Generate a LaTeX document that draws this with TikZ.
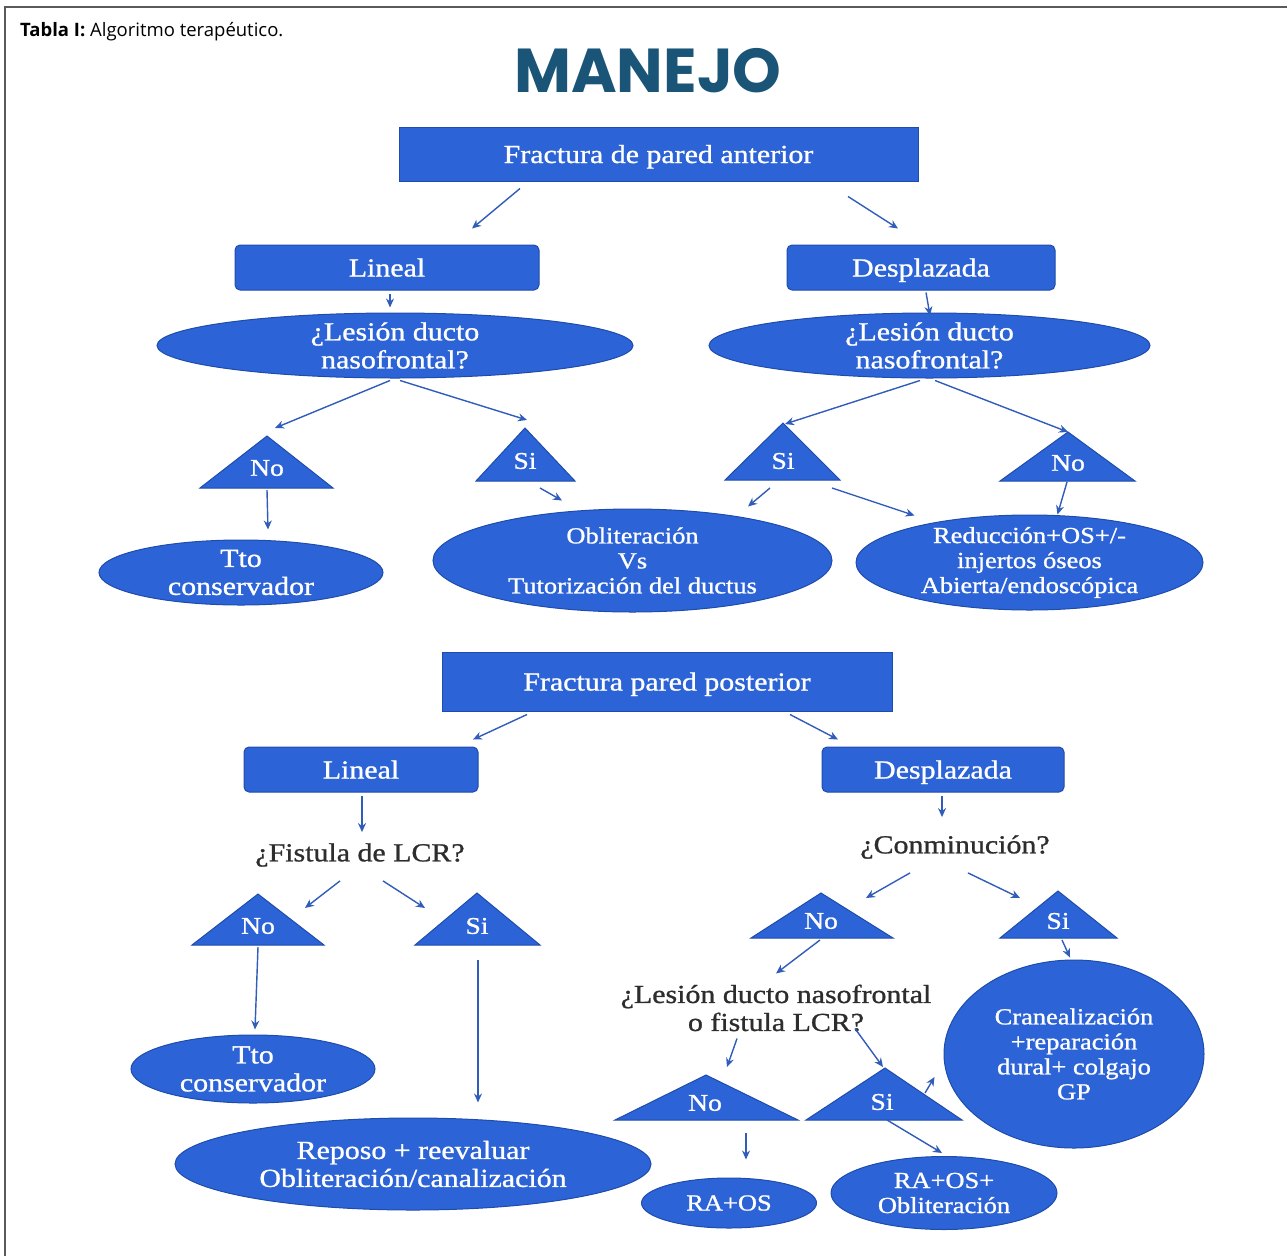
\documentclass[tikz,border=0pt]{standalone}
\usepackage{fontspec}
\setmainfont{Liberation Serif}[FakeStretch=1.15,FakeBold=1]
\newfontfamily\headfont{Open Sans}
\newfontfamily\titlefont{Poppins}
\usetikzlibrary{arrows.meta,calc,shapes.geometric}
\definecolor{boxblue}{RGB}{44,99,214}
\definecolor{edgeblue}{RGB}{30,76,172}
\definecolor{arrowblue}{RGB}{48,92,186}
\definecolor{titleblue}{RGB}{26,85,120}
\definecolor{framegray}{RGB}{90,90,90}
\definecolor{asktext}{RGB}{45,45,45}
\begin{document}
\begin{tikzpicture}[x=1pt,y=-1pt]
\tikzstyle{box}=[rectangle,fill=boxblue,draw=edgeblue,line width=1pt,text=white,text height=18pt,text depth=0pt,font=\fontsize{26}{28}\selectfont]
\tikzstyle{rbox}=[box,rounded corners=5pt]
\tikzstyle{oval}=[ellipse,fill=boxblue,draw=edgeblue,line width=1pt,text=white,inner sep=-6pt,align=center]
\tikzstyle{ovalbig}=[oval,font=\fontsize{26}{28}\selectfont]
\tikzstyle{ovalsmall}=[oval,font=\fontsize{23}{25}\selectfont]
\tikzstyle{tri}=[fill=boxblue,draw=edgeblue,line width=1pt]
\tikzstyle{trilabel}=[text=white,inner sep=0pt,font=\fontsize{24}{26}\selectfont]
\tikzstyle{question}=[text=asktext,inner sep=0pt,align=center,font=\fontsize{26}{28}\selectfont]
\tikzstyle{arr}=[draw=arrowblue,line width=1.4pt,-{Stealth[length=9pt,width=8pt]}]
\useasboundingbox (0,0) rectangle (1287,1256);
\draw[framegray,line width=1.6pt] (5,1256) -- (5,7) -- (1287,7);
\node[anchor=base west,inner sep=0pt,font=\headfont\fontsize{18.5}{21}\selectfont] (caption) at (20,36) {\textbf{Tabla I:} Algoritmo terapéutico.};
\node[anchor=base,inner sep=0pt,text=titleblue,font=\titlefont\bfseries\fontsize{62}{64}\selectfont] (manejo) at (648,92) {MANEJO};

\node[box,minimum width=519pt,minimum height=54pt] (fpa) at (658.5,154) {Fractura de pared anterior};
\node[rbox,minimum width=304pt,minimum height=45pt] (linA) at (387,267.5) {Lineal};
\node[rbox,minimum width=268pt,minimum height=45pt] (desA) at (921,267.5) {Desplazada};
\node[ovalbig,minimum width=476pt,minimum height=65pt] (lesA) at (395,345.5) {¿Lesión ducto\\nasofrontal?};
\node[ovalbig,minimum width=441pt,minimum height=65pt] (lesB) at (929.5,345.5) {¿Lesión ducto\\nasofrontal?};
\coordinate (noAtip) at (267,436);
\coordinate (siAtip) at (525,428);
\coordinate (siBtip) at (783,423);
\coordinate (noBtip) at (1068,432);
\filldraw[tri] (noAtip) -- ++(-67,52) -- ++(133,0) -- cycle;
\filldraw[tri] (siAtip) -- ++(-49,53) -- ++(99,0) -- cycle;
\filldraw[tri] (siBtip) -- ++(-58,57) -- ++(115,0) -- cycle;
\filldraw[tri] (noBtip) -- ++(-68,49) -- ++(135,0) -- cycle;
\node[trilabel] (noA) at (267,468) {No};
\node[trilabel] (siA) at (525,461) {Si};
\node[trilabel] (siB) at (783,461) {Si};
\node[trilabel] (noB) at (1068,463) {No};
\node[ovalbig,minimum width=284pt,minimum height=65pt] (ttoA) at (241,572.5) {Tto\\conservador};
\node[ovalsmall,minimum width=399pt,minimum height=103pt] (oblA) at (632.5,560.5) {Obliteración\\Vs\\Tutorización del ductus};
\node[ovalsmall,minimum width=347pt,minimum height=95pt] (redA) at (1029.5,562.5) {Reducción+OS+/-\\injertos óseos\\Abierta/endoscópica};
\draw[arr] ($(fpa.south)+(-138.5,7)$) -- ($(linA.north)+(85,-16)$);
\draw[arr] ($(fpa.south)+(189.5,15)$) -- ($(desA.north)+(-23,-16)$);
\draw[arr] ($(linA.south)+(3,3)$) -- ($(lesA.north)+(-5,-5)$);
\draw[arr] ($(desA.south)+(5,2)$) -- ($(lesB.north)+(0.5,3)$);
\draw[arr] ($(lesA.south)+(-5,2)$) -- ($(noAtip)+(8,-8)$);
\draw[arr] ($(lesA.south)+(5,2)$) -- ($(siAtip)+(2,-8)$);
\draw[arr] ($(lesB.south)+(-9.5,2)$) -- ($(siBtip)+(2,1)$);
\draw[arr] ($(lesB.south)+(5.5,2)$) -- (noBtip);
\draw[arr] ($(noAtip)+(0,54)$) -- ($(ttoA.north)+(27,-10)$);
\draw[arr] ($(siAtip)+(15,60)$) -- ($(oblA.north)+(-70.5,-8)$);
\draw[arr] ($(siBtip)+(-13,65)$) -- ($(oblA.north)+(115.5,-2)$);
\draw[arr] ($(siBtip)+(49,65)$) -- ($(redA.north)+(-115,1)$);
\draw[arr] ($(noBtip)+(-1,50)$) -- ($(redA.north)+(28,0)$);

\node[box,minimum width=450pt,minimum height=59pt] (fpp) at (667,681.5) {Fractura pared posterior};
\node[rbox,minimum width=234pt,minimum height=45pt] (linB) at (361,769.5) {Lineal};
\node[rbox,minimum width=242pt,minimum height=45pt] (desB) at (943,769.5) {Desplazada};
\node[question] (fis) at (360,855) {¿Fistula de LCR?};
\node[question] (con) at (955,847) {¿Conminución?};
\coordinate (noCtip) at (258,894);
\coordinate (siCtip) at (477,893);
\coordinate (noDtip) at (821,893);
\coordinate (siDtip) at (1058,891);
\coordinate (noEtip) at (706,1075);
\coordinate (siEtip) at (885,1068);
\filldraw[tri] (noCtip) -- ++(-66,51) -- ++(132,0) -- cycle;
\filldraw[tri] (siCtip) -- ++(-62,52) -- ++(125,0) -- cycle;
\filldraw[tri] (noDtip) -- ++(-70,45) -- ++(142,0) -- cycle;
\filldraw[tri] (siDtip) -- ++(-58,47) -- ++(117,0) -- cycle;
\filldraw[tri] (noEtip) -- ++(-91,45) -- ++(183,0) -- cycle;
\filldraw[tri] (siEtip) -- ++(-79,52) -- ++(156,0) -- cycle;
\node[trilabel] (noC) at (258,926) {No};
\node[trilabel] (siC) at (477,926) {Si};
\node[trilabel] (noD) at (821,921) {No};
\node[trilabel] (siD) at (1058,921) {Si};
\node[trilabel] (noE) at (705,1103) {No};
\node[trilabel] (siE) at (882,1102) {Si};
\node[question] (les2) at (776,1008) {¿Lesión ducto nasofrontal\\o fistula LCR?};
\node[ovalbig,minimum width=244pt,minimum height=68pt] (ttoB) at (253,1069) {Tto\\conservador};
\node[ovalbig,minimum width=476pt,minimum height=92pt] (repB) at (413,1164) {Reposo + reevaluar\\Obliteración/canalización};
\node[ovalsmall,minimum width=260pt,minimum height=188pt] (cra) at (1074,1054) {Cranealización\\+reparación\\dural+ colgajo\\GP};
\node[ovalsmall,minimum width=175pt,minimum height=50pt] (raos) at (729,1203) {RA+OS};
\node[ovalsmall,minimum width=226pt,minimum height=73pt] (raosob) at (944,1193) {RA+OS+\\Obliteración};
\draw[arr] ($(fpp.south)+(-140,3)$) -- ($(linB.north)+(112,-7)$);
\draw[arr] ($(fpp.south)+(123,3)$) -- ($(desB.north)+(-105,-7)$);
\draw[arr] ($(linB.south)+(1,3)$) -- ($(fis.north)+(2,-11)$);
\draw[arr] ($(desB.south)+(-1,3)$) -- ($(con.north)+(-13,-18)$);
\draw[arr] ($(fis.south)+(-20,14)$) -- ($(noCtip)+(47,14)$);
\draw[arr] ($(fis.south)+(23,14)$) -- ($(siCtip)+(-52,15)$);
\draw[arr] ($(noCtip)+(0,53)$) -- ($(ttoB.north)+(2,-5)$);
\draw[arr] ($(siCtip)+(1,67)$) -- ($(repB.north)+(65,-15)$);
\draw[arr] ($(con.south)+(-45,14)$) -- ($(noDtip)+(45,5)$);
\draw[arr] ($(con.south)+(13,14)$) -- ($(siDtip)+(-38,7)$);
\draw[arr] ($(noDtip)+(-1,47)$) -- ($(les2.north)+(0,-11)$);
\draw[arr] ($(siDtip)+(4,49)$) -- ($(cra.north)+(-4,-2)$);
\draw[arr] ($(les2.south)+(-39,7)$) -- ($(noEtip)+(21,-8)$);
\draw[arr] ($(les2.south)+(79,-3)$) -- ($(siEtip)+(-2,-1)$);
\draw[arr] ($(siEtip)+(40,25)$) -- ($(cra.west)+(-9,23)$);
\draw[arr] ($(siEtip)+(2,52)$) -- ($(raosob.north)+(-2,-3)$);
\draw[arr] ($(noEtip)+(40,58)$) -- ($(raos.north)+(17,-18)$);
\end{tikzpicture}
\end{document}
